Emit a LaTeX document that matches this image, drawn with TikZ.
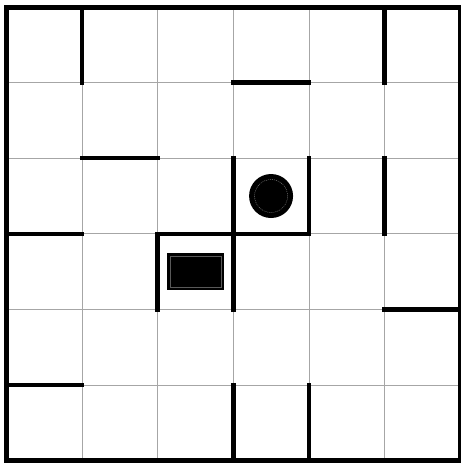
\documentclass[tikz,border=0pt]{standalone}
\usepackage{tikz}

\begin{document}
\begin{tikzpicture}[x=75.6pt, y=-75.6pt,
   gridline/.style={draw=black!35, line width=0.7pt},
   wall/.style={line width=4.5pt, line cap=rect},
   border/.style={line width=5pt},
   ball/.style={circle, fill=black, minimum size=44pt, inner sep=0pt},
   box/.style={rectangle, fill=black, minimum width=57pt, minimum height=37pt, inner sep=0pt}]
  \useasboundingbox (-0.086,-0.093) rectangle (6.0,6.032);
  % thin grid
  \foreach \i in {1,...,5} {
    \draw[gridline] (\i,0) -- (\i,6);
    \draw[gridline] (0,\i) -- (6,\i);
  }
  % walls: vertical (x, y from, y to)
  \foreach \x/\a/\b in {1/0/1, 5/0/1, 3/2/3, 4/2/3, 5/2/3, 2/3/4, 3/3/4, 3/5/6, 4/5/6}
    \draw[wall] (\x,\a) -- (\x,\b);
  % walls: horizontal (y, x from, x to)
  \foreach \y/\a/\b in {1/3/4, 2/1/2, 3/0/1, 3/2/3, 3/3/4, 4/5/6, 5/0/1}
    \draw[wall] (\a,\y) -- (\b,\y);
  % outer border
  \draw[border] (0,0) rectangle (6,6);
  % objects
  \node[ball] (goal) at (3.5,2.5) {};
  \draw[black!45, line width=0.4pt, dash pattern=on 1pt off 1pt] (goal.center) circle[radius=16.5pt];
  \node[box] (agent) at (2.5,3.5) {};
  \draw[black!65, line width=0.4pt] ([shift={(3pt,-3pt)}]agent.north west) rectangle ([shift={(-3pt,3pt)}]agent.south east);
\end{tikzpicture}
\end{document}
